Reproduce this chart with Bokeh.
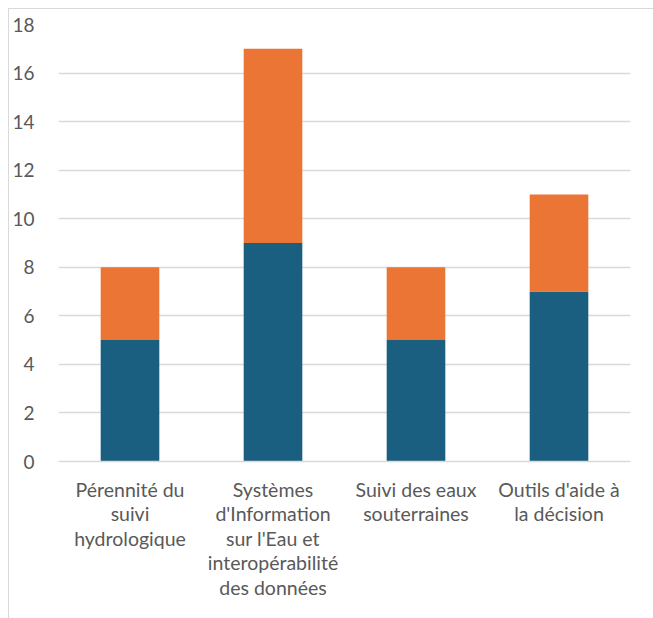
from bokeh.plotting import figure
from bokeh.models import ColumnDataSource, FactorRange, Range1d, FixedTicker
from bokeh.embed import file_html
from bokeh.resources import INLINE

categories = ["Pérennité du\nsuivi\nhydrologique",
              "Systèmes\nd'Information\nsur l'Eau et\ninteropérabilité\ndes données",
              "Suivi des eaux\nsouterraines",
              "Outils d'aide à\nla décision"]
series_a = [5, 9, 5, 7]
series_b = [3, 8, 3, 4]
y_ticks = [0, 2, 4, 6, 8, 10, 12, 14, 16, 18]

blue = "#1a5e80"
orange = "#ea7535"
text_col = "#595959"
grid_col = "#d9d9d9"
font = "Lato"

src = ColumnDataSource(dict(cat=categories, a=series_a, b=series_b))

p = figure(x_range=FactorRange(*categories), y_range=Range1d(0, 18),
           width=645, height=610,
           min_border_left=47, min_border_top=15, min_border_right=24, min_border_bottom=158,
           output_backend="svg", toolbar_location=None, tools="")
p.styles = {"border-top": "1px solid #d9d9d9", "border-left": "1px solid #d9d9d9",
            "margin-left": "8px", "margin-top": "8px"}

p.vbar_stack(["a", "b"], x="cat", width=0.41, color=[blue, orange], source=src,
             line_color=None)

p.outline_line_color = None
p.x_range.range_padding = 0
p.xgrid.grid_line_color = None
p.ygrid.grid_line_color = grid_col
p.ygrid.grid_line_width = 1.5
p.yaxis.ticker = FixedTicker(ticks=y_ticks)
p.yaxis.axis_line_color = None
p.yaxis.major_tick_line_color = None
p.yaxis.minor_tick_line_color = None
p.yaxis.major_label_text_font = font
p.yaxis.major_label_text_font_size = "19px"
p.yaxis.major_label_text_color = text_col
p.yaxis.major_label_standoff = 18

p.xaxis.axis_line_color = grid_col
p.xaxis.axis_line_width = 1.5
p.xaxis.major_tick_line_color = None
p.xaxis.minor_tick_line_color = None
p.xaxis.major_label_text_font = font
p.xaxis.major_label_text_font_size = "19.5px"
p.xaxis.major_label_text_color = text_col
p.xaxis.major_label_standoff = 10
p.xaxis.major_label_text_line_height = 1.07

open("out.html", "w").write(file_html(p, INLINE))
